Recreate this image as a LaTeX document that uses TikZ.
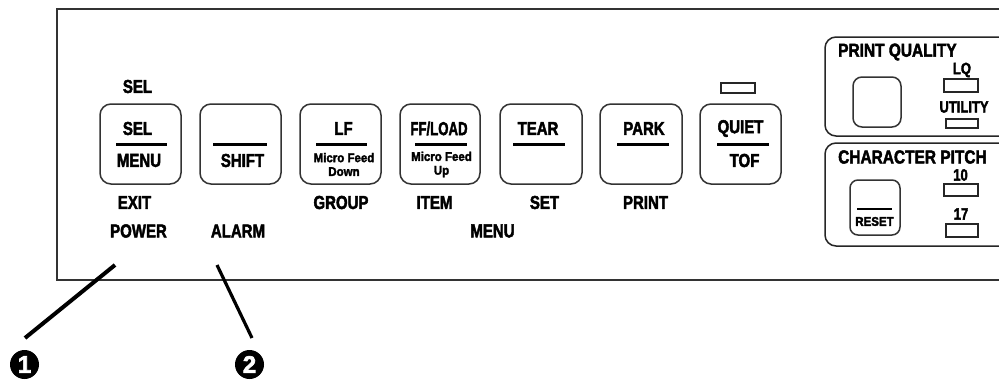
\documentclass[tikz,border=0pt]{standalone}
\usepackage{fontspec}
\setmainfont[BoldFeatures={FakeBold=2.6}]{Liberation Sans}
\tikzset{
  x=1pt,y=-1pt,
  panel/.style={draw=black!80,line width=1.3pt},
  keybox/.style={draw=black!80,line width=1.5pt,rounded corners=11pt},
  groupbox/.style={draw=black!85,line width=1.5pt,rounded corners=11pt},
  bar/.style={draw=black,line width=2.8pt},
  led/.style={draw=black!85,line width=1.4pt},
  lbl/.style={inner sep=0pt,font=\fontsize{15}{15}\bfseries,yscale=1.25,xscale=1},
  small/.style={inner sep=0pt,align=center,font=\fontsize{11.5}{12.5}\bfseries,yscale=1.1},
  pointer/.style={draw=black,line width=4pt},
  num/.style={circle,fill=black,text=white,inner sep=0pt,minimum size=29pt,font=\fontsize{24}{24}\bfseries}
}
\begin{document}
\begin{tikzpicture}
\useasboundingbox (0,0) rectangle (999,380);
\fill[white] (0,0) rectangle (999,380);
% panel
\draw[panel] (1000,9) -- (57,9) -- (57,280) -- (1000,280);
% keys
\draw[keybox] (100,104) rectangle (181,184);
\draw[keybox] (200,104) rectangle (281,184);
\draw[keybox] (300,104) rectangle (381,184);
\draw[keybox] (400,104) rectangle (480,184);
\draw[keybox] (500,104) rectangle (582,184);
\draw[keybox] (600,104) rectangle (682,184);
\draw[keybox] (700,104) rectangle (781,184);
% bars
\foreach \a/\b in {116/167,213/267,316/367,415/467,513/565,617/669,717/769}
  \draw[bar] (\a,144.5) -- (\b,144.5);
% key text
\node[lbl] (t1) at (137.5,86.5) {SEL};
\node[lbl] (t2) at (137.5,128.5) {SEL};
\node[lbl] (t3) at (139,160.5) {MENU};
\node[lbl] (t4) at (242.5,160.5) {SHIFT};
\node[lbl] (t5) at (343.5,128.5) {LF};
\node[small] (t6) at (344,164.5) {Micro Feed\\Down};
\node[lbl,xscale=.88] (t7) at (439,128.5) {FF/LOAD};
\node[small] (t8) at (441.5,164.5) {Micro Feed\\Up};
\node[lbl] (t9) at (538,128.5) {TEAR};
\node[lbl] (t10) at (644,128.5) {PARK};
\node[lbl] (t11) at (740.5,128.5) {QUIET};
\node[lbl] (t12) at (744.5,160.5) {TOF};
% below keys
\node[lbl] (b1) at (134.5,202.5) {EXIT};
\node[lbl] (b2) at (341,202.5) {GROUP};
\node[lbl] (b3) at (434.5,202.5) {ITEM};
\node[lbl] (b4) at (544.5,202.5) {SET};
\node[lbl] (b5) at (645.5,202.5) {PRINT};
\node[lbl] (b6) at (138.5,231) {POWER};
\node[lbl] (b7) at (238,231) {ALARM};
\node[lbl] (b8) at (492.5,231) {MENU};
% quiet led
\draw[led] (721,83) rectangle (755,93);
% print quality
\draw[groupbox] (1010,37) -- (825,37) -- (825,136) -- (1010,136);
\node[lbl,anchor=west,xscale=1.03] (q1) at (838,52) {PRINT QUALITY};
\draw[keybox,rounded corners=9pt] (853,77) rectangle (901,127);
\node[lbl,font=\fontsize{13}{13}\bfseries] (q2) at (962,70) {LQ};
\draw[led] (944,79) rectangle (978,92);
\node[lbl,font=\fontsize{13}{13}\bfseries] (q3) at (964,107) {UTILITY};
\draw[led] (946,119) rectangle (978,128);
% character pitch
\draw[groupbox] (1010,143) -- (825,143) -- (825,246) -- (1010,246);
\node[lbl,anchor=west,xscale=1.03] (c1) at (838,157) {CHARACTER PITCH};
\draw[keybox,rounded corners=8pt] (850,180) rectangle (900,235);
\draw[bar,line width=2pt] (857,209) -- (892,209);
\node[small] (c2) at (874.5,221.5) {RESET};
\node[lbl,font=\fontsize{13}{13}\bfseries] (c3) at (960.5,175) {10};
\draw[led] (944,184) rectangle (978,196);
\node[lbl,font=\fontsize{13}{13}\bfseries] (c4) at (961,214) {17};
\draw[led] (946,224) rectangle (978,237);
% callouts
\coordinate (p1) at (115,265);
\coordinate (p2) at (217,265);
\coordinate (e1) at (25,338);
\coordinate (e2) at (252,338);
\node[num] (n1) at (24.5,364.5) {1};
\node[num] (n2) at (249.5,364.5) {2};
\draw[pointer] (p1) -- (e1);
\draw[pointer,line width=3.2pt] (p2) -- (e2);
\end{tikzpicture}
\end{document}
